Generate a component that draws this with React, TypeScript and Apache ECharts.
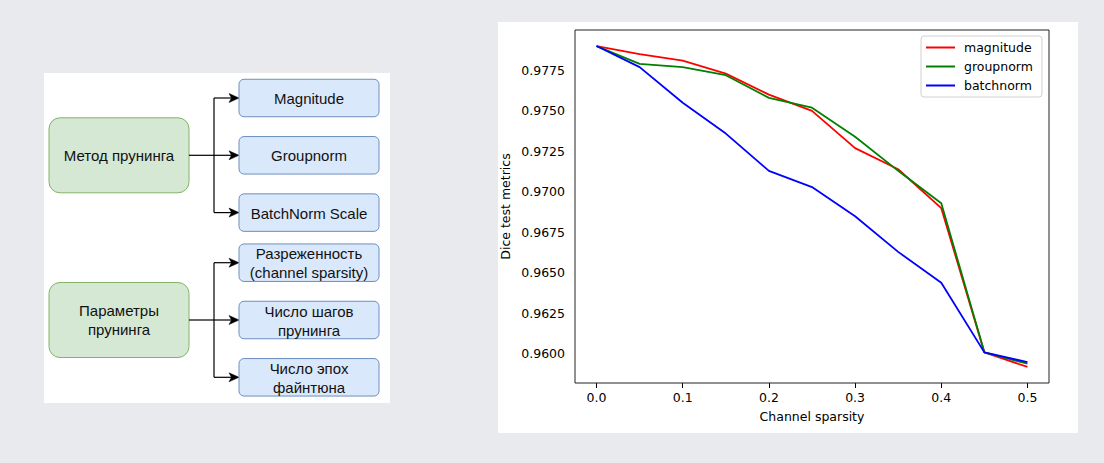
import { useEffect, useRef } from "react";
import * as echarts from "echarts";

// ---------- data ----------
const sparsity = [0, 0.05, 0.1, 0.15, 0.2, 0.25, 0.3, 0.35, 0.4, 0.45, 0.5];
const magnitude = [0.979, 0.9785, 0.9781, 0.9773, 0.976, 0.975, 0.9727, 0.9714, 0.969, 0.9601, 0.9592];
const groupnorm = [0.979, 0.9779, 0.9777, 0.9772, 0.9758, 0.9752, 0.9734, 0.9713, 0.9693, 0.9601, 0.9594];
const batchnorm = [0.979, 0.9777, 0.9755, 0.9736, 0.9713, 0.9703, 0.9685, 0.9663, 0.9644, 0.9601, 0.9595];
const xTicks = [0, 0.1, 0.2, 0.3, 0.4, 0.5];
const yTicks = [0.96, 0.9625, 0.965, 0.9675, 0.97, 0.9725, 0.975, 0.9775];
const seriesNames = ["magnitude", "groupnorm", "batchnorm"];
const seriesColors = ["#ff0000", "#008000", "#0000ff"];
const xTitle = "Channel sparsity";
const yTitle = "Dice test metrics";

const methodGroup = "Метод прунинга";
const methodItems = ["Magnitude", "Groupnorm", "BatchNorm Scale"];
const paramGroup = "Параметры\nпрунинга";
const paramItems = ["Разреженность\n(channel sparsity)", "Число шагов\nпрунинга", "Число эпох\nфайнтюна"];

// ---------- helpers ----------
const FLOW_FONT = '"Liberation Sans", Arial, Helvetica, sans-serif';
const MPL_FONT = '"DejaVu Sans", sans-serif';
const MPL_SIZE = 12.5;

function flowGroup(label: string, items: string[], cy: number): any[] {
  const els: any[] = [];
  const step = 57.3;
  const greenX = 49, greenW = 140, greenH = 75;
  const blueX = 239, blueW = 140, blueH = 37.5;
  const jx = 214;
  els.push({
    type: "rect", z: 10,
    shape: { x: greenX, y: cy - greenH / 2, width: greenW, height: greenH, r: 11 },
    style: { fill: "#d5e8d4", stroke: "#82b366", lineWidth: 1 },
  });
  els.push({
    type: "text", z: 11, x: greenX + greenW / 2, y: cy,
    style: { text: label, fill: "#111", fontSize: 15, fontFamily: FLOW_FONT, align: "center", verticalAlign: "middle", lineHeight: 19 },
  });
  const ys = items.map((_, i) => cy + (i - (items.length - 1) / 2) * step);
  els.push({
    type: "polyline", z: 10,
    shape: { points: [[greenX + greenW, cy], [jx, cy]] },
    style: { stroke: "#000", lineWidth: 1.2, fill: null },
  });
  els.push({
    type: "polyline", z: 10,
    shape: { points: [[jx, ys[0]], [jx, ys[ys.length - 1]]] },
    style: { stroke: "#000", lineWidth: 1.2, fill: null },
  });
  items.forEach((it, i) => {
    const y = ys[i];
    els.push({
      type: "polyline", z: 10,
      shape: { points: [[jx, y], [blueX - 7, y]] },
      style: { stroke: "#000", lineWidth: 1.2, fill: null },
    });
    els.push({
      type: "polygon", z: 10,
      shape: { points: [[blueX, y], [blueX - 10, y - 4.5], [blueX - 7.5, y], [blueX - 10, y + 4.5]] },
      style: { fill: "#000", stroke: "#000", lineWidth: 0.5 },
    });
    els.push({
      type: "rect", z: 10,
      shape: { x: blueX, y: y - blueH / 2, width: blueW, height: blueH, r: 5 },
      style: { fill: "#dae8fc", stroke: "#6c8ebf", lineWidth: 1 },
    });
    els.push({
      type: "text", z: 11, x: blueX + blueW / 2, y: y + 0.5,
      style: { text: it, fill: "#111", fontSize: 15, fontFamily: FLOW_FONT, align: "center", verticalAlign: "middle", lineHeight: 19 },
    });
  });
  return els;
}

export default function App() {
  const ref = useRef<HTMLDivElement>(null);
  useEffect(() => {
    if (!ref.current) return;
    const chart = echarts.init(ref.current, undefined, { renderer: "svg" });
    const all = [...magnitude, ...groupnorm, ...batchnorm];
    const dMin = Math.min(...all), dMax = Math.max(...all);
    const pad = (dMax - dMin) * 0.05;
    const xMin = Math.min(...sparsity), xMax = Math.max(...sparsity);
    const xPad = (xMax - xMin) * 0.05;
    const values = [magnitude, groupnorm, batchnorm];

    chart.setOption({
      animation: false,
      backgroundColor: "#e9eaee",
      textStyle: { fontFamily: MPL_FONT },
      grid: {
        left: 575, top: 30, width: 474, height: 353,
        show: true, borderColor: "#222", borderWidth: 1, backgroundColor: "#fff", z: 1,
      },
      legend: {
        orient: "vertical",
        left: 921, top: 36,
        data: seriesNames,
        icon: "rect",
        itemWidth: 29, itemHeight: 2,
        itemGap: 6,
        padding: [5, 9, 5, 5],
        backgroundColor: "rgba(255,255,255,0.85)",
        borderColor: "#d0d0d0", borderWidth: 1, borderRadius: 3,
        textStyle: { fontFamily: MPL_FONT, fontSize: MPL_SIZE, color: "#000", padding: [0, 0, 0, 4] },
        z: 20,
      },
      xAxis: {
        type: "value",
        min: xMin - xPad, max: xMax + xPad,
        name: xTitle, nameLocation: "middle", nameGap: 27,
        nameTextStyle: { fontFamily: MPL_FONT, fontSize: MPL_SIZE, color: "#000" },
        axisLine: { show: false },
        axisTick: { show: true, inside: false, length: 5, lineStyle: { color: "#000" }, customValues: xTicks },
        axisLabel: { fontFamily: MPL_FONT, fontSize: MPL_SIZE, color: "#000", margin: 8, customValues: xTicks, formatter: (v: number) => v.toFixed(1) },
        splitLine: { show: false },
      },
      yAxis: {
        type: "value",
        min: dMin - pad, max: dMax + pad,
        name: yTitle, nameLocation: "middle", nameGap: 63,
        nameTextStyle: { fontFamily: MPL_FONT, fontSize: MPL_SIZE, color: "#000" },
        axisLine: { show: false },
        axisTick: { show: true, inside: false, length: 5, lineStyle: { color: "#000" }, customValues: yTicks },
        axisLabel: { fontFamily: MPL_FONT, fontSize: MPL_SIZE, color: "#000", margin: 10, customValues: yTicks, formatter: (v: number) => v.toFixed(4) },
        splitLine: { show: false },
      },
      series: seriesNames.map((n, i) => ({
        name: n,
        type: "line",
        data: sparsity.map((x, j) => [x, values[i][j]]),
        showSymbol: false,
        symbol: "none",
        color: seriesColors[i],
        lineStyle: { color: seriesColors[i], width: 1.8 },
        z: 5 + i,
      })),
      graphic: [
        { type: "rect", z: -10, shape: { x: 44, y: 73, width: 346, height: 330 }, style: { fill: "#fff" } },
        { type: "rect", z: -10, shape: { x: 498, y: 22, width: 580, height: 411 }, style: { fill: "#fff" } },
        ...flowGroup(methodGroup, methodItems, 155.3),
        ...flowGroup(paramGroup, paramItems, 320),
      ],
    });
    return () => chart.dispose();
  }, []);
  return <div ref={ref} style={{ position: "fixed", left: 0, top: 0, width: 1104, height: 463 }} />;
}
